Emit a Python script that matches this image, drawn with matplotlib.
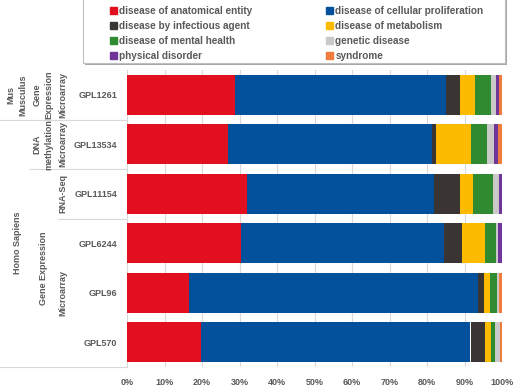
import matplotlib
matplotlib.use('Agg')
import matplotlib.pyplot as plt
from matplotlib.patches import Patch, Rectangle
import numpy as np

plt.rcParams['font.family'] = ['Liberation Sans', 'DejaVu Sans']
plt.rcParams['font.weight'] = 'bold'

W, H = 520, 390
fontsize = 6.5
textcolor = '#595959'
linecolor = '#D9D9D9'

platforms = ['GPL1261', 'GPL13534', 'GPL11154', 'GPL6244', 'GPL96', 'GPL570']

categories = ['disease of anatomical entity', 'disease of cellular proliferation',
              'disease by infectious agent', 'disease of metabolism',
              'disease of mental health', 'genetic disease',
              'physical disorder', 'syndrome']
colors = ['#E2101E', '#03519C', '#3A3533', '#FDBB00',
          '#2F8A30', '#C9C9C9', '#6F3598', '#EF7B3D']

anatomical    = [28.9, 26.9, 32.1, 30.5, 16.6, 19.8]
proliferation = [56.1, 54.4, 49.8, 54.0, 77.0, 71.8]
infectious    = [3.9, 1.0, 6.9, 4.7, 1.7, 3.9]
metabolism    = [3.9, 9.5, 3.5, 6.3, 1.6, 1.6]
mental        = [4.2, 4.1, 5.2, 3.0, 1.8, 1.1]
genetic       = [1.4, 2.1, 1.7, 0.4, 0.6, 1.2]
physical      = [0.7, 1.0, 0.8, 1.1, 0.0, 0.0]
syndrome      = [0.9, 1.0, 0.0, 0.0, 0.7, 0.6]
series = [anatomical, proliferation, infectious, metabolism, mental, genetic, physical, syndrome]

# hierarchical row labels: (text, first row, last row)
species = [('Mus\nMusculus', 0, 0), ('Homo Sapiens', 1, 5)]
assays = [('Gene\nExpression', 0, 0), ('DNA\nmethylation', 1, 1), ('Gene Expression', 2, 5)]
techs = [('Microarray', 0, 0), ('Microarray', 1, 1), ('RNA-Seq', 2, 2), ('Microarray', 3, 5)]

xticks = list(range(0, 101, 10))
xticklabels = [f'{t}%' for t in xticks]

fig = plt.figure(figsize=(W / 100, H / 100), dpi=100)
ax_l, ax_r, ax_t, ax_b = 127, 502, 70, 367
ax = fig.add_axes([ax_l / W, 1 - ax_b / H, (ax_r - ax_l) / W, (ax_b - ax_t) / H])

y = np.arange(len(platforms))
left = np.zeros(len(platforms))
for name, vals, c in zip(categories, series, colors):
    vals = np.array(vals)
    ax.barh(y, vals, left=left, height=0.8, color=c, label=name, zorder=3)
    left += vals

ax.set_xlim(0, 100)
ax.set_ylim(len(platforms) - 0.5, -0.5)
ax.set_xticks(xticks)
ax.set_xticklabels(xticklabels)
ax.set_yticks(y)
ax.set_yticklabels(platforms)
ax.tick_params(axis='both', length=0, labelsize=fontsize, labelcolor=textcolor)
ax.tick_params(axis='x', pad=8)
ax.tick_params(axis='y', pad=7)
for lab in ax.get_xticklabels() + ax.get_yticklabels():
    lab.set_fontweight('bold')
ax.grid(axis='x', color=linecolor, linewidth=0.8, zorder=0)
for s in ['top', 'right', 'bottom']:
    ax.spines[s].set_visible(False)
ax.spines['left'].set_color(linecolor)
ax.spines['left'].set_linewidth(0.8)


def px2ax(px):
    return (px - ax_l) / (ax_r - ax_l)


tr = ax.get_yaxis_transform()
col_x = [17, 43, 63]
col_left = [0, 30, 58]
for ci, group in enumerate([species, assays, techs]):
    for text, r0, r1 in group:
        ax.text(px2ax(col_x[ci]), (r0 + r1) / 2, text, transform=tr, rotation=90,
                ha='center', va='center', fontsize=fontsize, color=textcolor,
                fontweight='bold', linespacing=1.35, multialignment='center')

# separators between groups, starting at the leftmost column that ends there
for b in range(len(platforms)):
    start = None
    for ci, group in enumerate([species, assays, techs]):
        if any(r1 == b for _, _, r1 in group):
            start = col_left[ci]
            break
    if start is None:
        continue
    ax.plot([px2ax(start), 0], [b + 0.5, b + 0.5], transform=tr, color=linecolor,
            linewidth=0.8, clip_on=False)

# legend box with shadow
bx0, bx1, by0, by1 = 83, 505, -5, 63
fig.patches.append(Rectangle(((bx0 + 2) / W, 1 - (by1 + 2) / H), (bx1 - bx0) / W, (by1 - by0) / H,
                             transform=fig.transFigure, facecolor='#A6A6A6', edgecolor='none'))
fig.patches.append(Rectangle((bx0 / W, 1 - by1 / H), (bx1 - bx0) / W, (by1 - by0) / H,
                             transform=fig.transFigure, facecolor='white', edgecolor='#BFBFBF',
                             linewidth=0.8))

# legend reads row by row in the reference
order = [0, 2, 4, 6, 1, 3, 5, 7]
handles = [Patch(color=colors[i]) for i in order]
labels = [categories[i] for i in order]
fig.legend(handles, labels, loc='upper left', bbox_to_anchor=(110 / W, 1 - 6 / H),
           ncol=2, frameon=False, fontsize=7.2, borderpad=0, borderaxespad=0,
           handlelength=0.65, handleheight=0.65, handletextpad=0.25,
           columnspacing=7.4, labelspacing=0.5, labelcolor=textcolor)

fig.savefig('out.png', dpi=100)
